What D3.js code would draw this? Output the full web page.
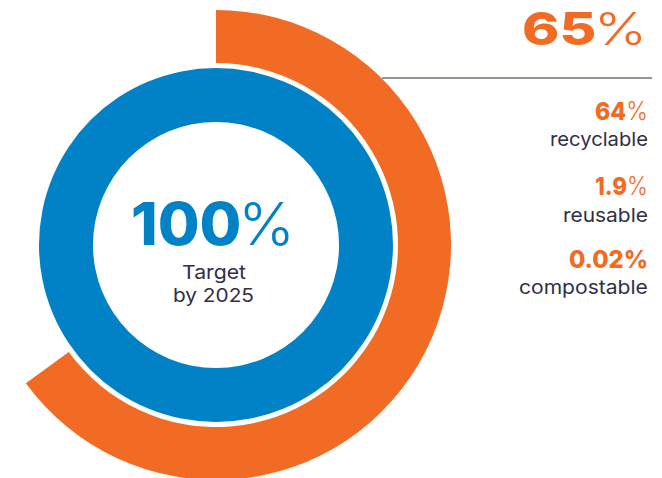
<!DOCTYPE html>
<html>
<head>
<meta charset="utf-8">
<script src="https://cdn.jsdelivr.net/npm/d3@7"></script>
<style>
  html, body { margin: 0; padding: 0; background: #fff; }
  svg { display: block; }
</style>
</head>
<body>
<svg id="chart" width="662" height="478"></svg>
<script>
// ---- data ----
const ringNames = ["Target by 2025", "Current"];
const ringValues = [100, 65];
const headlineNumber = ["65", "%"];
const targetNumber = ["100", "%"];
const targetLabel = ["Target", "by 2025"];
const breakdownNumbers = ["64", "1.9", "0.02"];
const breakdownLabels = ["recyclable", "reusable", "compostable"];

// ---- style ----
const ORANGE = "#F26B24";
const BLUE = "#0181C6";
const DARK = "#2F3047";
const LINE = "#72727f";
const FONT = "Inter, 'Open Sans', sans-serif";

const svg = d3.select("#chart");
const cx = 216, cy = 245;

const angle = d3.scaleLinear().domain([0, 100]).range([0, 2 * Math.PI]);

const rings = [
  { name: ringNames[0], value: ringValues[0], inner: 123, outer: 177, color: BLUE },
  { name: ringNames[1], value: ringValues[1], inner: 182, outer: 235, color: ORANGE }
];

const g = svg.append("g").attr("transform", `translate(${cx},${cy})`);
const arc = d3.arc()
  .innerRadius(d => d.inner)
  .outerRadius(d => d.outer)
  .startAngle(0)
  .endAngle(d => angle(d.value));

g.selectAll("path.ring").data(rings).join("path")
  .attr("class", "ring")
  .attr("d", arc)
  .attr("fill", d => d.color);

// horizontally stretch a text element so it spans [x0, x1]
function fit(sel, x0, x1) {
  const node = sel.node();
  const bb = node.getBBox();
  const s = (x1 - x0) / bb.width;
  sel.attr("transform", `translate(${x0},0) scale(${s},1) translate(${-bb.x},0)`);
}

// center text
const big = svg.append("text")
  .attr("x", 0).attr("y", 245)
  .attr("font-family", FONT)
  .attr("fill", BLUE)
  .attr("font-size", 59);
big.append("tspan").attr("font-weight", 800).text(targetNumber[0]);
big.append("tspan").attr("font-weight", 300).attr("dx", -3).text(targetNumber[1]);
fit(big, 131, 295);

const tl = svg.selectAll("text.tlabel").data(targetLabel).join("text")
  .attr("class", "tlabel")
  .attr("x", 0)
  .attr("y", (d, i) => 279 + i * 23)
  .attr("font-family", FONT)
  .attr("font-size", 19)
  .attr("fill", DARK)
  .text(d => d);
const tlSpan = [[182, 246], [173, 254]];
tl.each(function (d, i) { fit(d3.select(this), tlSpan[i][0], tlSpan[i][1]); });

// headline right
const head = svg.append("text")
  .attr("x", 0).attr("y", 45)
  .attr("font-family", FONT)
  .attr("fill", ORANGE)
  .attr("font-size", 45);
head.append("tspan").attr("font-weight", 800).text(headlineNumber[0]);
head.append("tspan").attr("font-weight", 300).attr("dx", -2).text(headlineNumber[1]);
fit(head, 522, 647);

svg.append("line")
  .attr("x1", 382).attr("x2", 652)
  .attr("y1", 78).attr("y2", 78)
  .attr("stroke", LINE).attr("stroke-width", 1.4);

const numBase = [120, 195, 268];
const labBase = [146, 222, 294];
const numLeft = [595, 595, 569];
const labLeft = [550, 563, 519];
const right = 648;

breakdownNumbers.forEach((n, i) => {
  const t = svg.append("text")
    .attr("x", 0).attr("y", numBase[i])
    .attr("font-family", FONT)
    .attr("fill", ORANGE)
    .attr("font-size", 25);
  t.append("tspan").attr("font-weight", 800).text(n);
  t.append("tspan").attr("font-weight", i === 2 ? 800 : 300).text("%");
  fit(t, numLeft[i], right);
  const l = svg.append("text")
    .attr("x", 0).attr("y", labBase[i])
    .attr("font-family", FONT)
    .attr("fill", DARK)
    .attr("font-size", 19)
    .text(breakdownLabels[i]);
  fit(l, labLeft[i], right);
});
</script>
</body>
</html>
